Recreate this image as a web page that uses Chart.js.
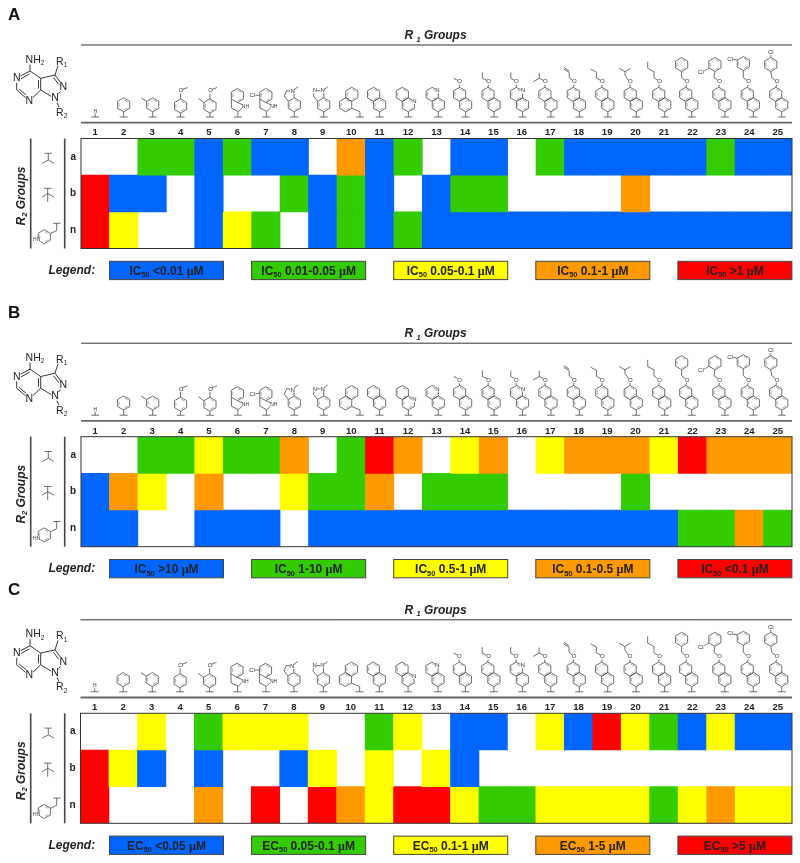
<!DOCTYPE html>
<html><head><meta charset="utf-8">
<style>html,body{margin:0;padding:0;background:#fff}canvas{position:absolute;left:0;display:block}</style>
<script src="https://cdn.jsdelivr.net/npm/chart.js@4"></script>
</head><body>
<canvas id="panelA" width="800" height="290" style="top:0"></canvas>
<canvas id="panelB" width="800" height="292" style="top:290px"></canvas>
<canvas id="panelC" width="800" height="281" style="top:582px"></canvas>
<script>
const categories = ['1','2','3','4','5','6','7','8','9','10','11','12','13','14','15','16','17','18','19','20','21','22','23','24','25'];
const rowLabels = ['a','b','n'];
const palette = ['#ffffff','#0066ff','#33cc00','#ffff00','#ff9900','#ff0000'];
// class codes: 0 none, 1 blue, 2 green, 3 yellow, 4 orange, 5 red
const panelA_a = [0,0,2,2,1,2,1,1,0,4,1,2,0,1,1,0,2,1,1,1,1,1,2,1,1];
const panelA_b = [5,1,1,0,1,0,0,2,1,2,1,0,1,2,2,0,0,0,0,4,0,0,0,0,0];
const panelA_n = [5,3,0,0,1,3,2,0,1,2,1,2,1,1,1,1,1,1,1,1,1,1,1,1,1];
const panelB_a = [0,0,2,2,3,2,2,4,0,2,5,4,0,3,4,0,3,4,4,4,3,5,4,4,4];
const panelB_b = [1,4,3,0,4,0,0,3,2,2,4,0,2,2,2,0,0,0,0,2,0,0,0,0,0];
const panelB_n = [1,1,0,0,1,1,1,0,1,1,1,1,1,1,1,1,1,1,1,1,1,2,2,4,2];
const panelC_a = [0,0,3,0,2,3,3,3,0,0,2,3,0,1,1,0,3,1,5,3,2,1,3,1,1];
const panelC_b = [5,3,1,0,1,0,0,1,3,0,3,0,3,1,0,0,0,0,0,0,0,0,0,0,0];
const panelC_n = [5,0,0,0,4,0,5,0,5,4,3,5,5,3,2,2,3,3,3,3,2,3,4,3,3];
const legendA = ['<0.01','0.01-0.05','0.05-0.1','0.1-1','>1'];
const legendB = ['>10','1-10','0.5-1','0.1-0.5','<0.1'];
const legendC = ['<0.05','0.05-0.1','0.1-1','1-5','>5'];

const SANS = '"Liberation Sans", Arial, sans-serif';
const INK = '#222';

/* ---------- drawing of the chemical sketches (decoration, not data) ---------- */
const R = 7, UX = -6.06, UY = 94.3, LY = 104.8;
const ring = (x, y) => ({ring: [x, y]});
const line = (...p) => ({line: p});
const txt = (s, x, y, z) => ({text: [s, x, y, z || 6]});
const stem = (x, y) => [line([x, y], [x, 117]), line([x - 4, 117], [x + 4, 117])];
const naph = d => [ring(d, LY), ring(d + UX, UY), ...stem(d, LY + R)];
const oxy = (d, ox) => [line([d + UX, UY - R], [ox, 84.6]), txt('O', ox + .3, 81.7)];
const ether = (d, ox, ...chain) => [...naph(d), ...oxy(d, ox), line([ox - 1.5, 80.4], ...chain)];
const indole = [ring(0, 95.5), line([-6.06, 99], [-6, 108], [1, 111.5], [4.8, 107.8]), line([0, 102.5], [5.2, 104.8]), txt('NH', 8, 106.8, 5), ...stem(0.5, 111.5)];
const benzylEther = (d, ox, cx, rx, ry, extra) => [...naph(d), ...oxy(d, ox), line([ox - 1.5, 80.4], [cx, 77.5], [rx, ry + R]), ring(rx, ry), ...extra];
const structures = [
  [txt('H', 0, 111.2, 5), ...stem(0, 113.5)],
  [ring(0, LY), ...stem(0, LY + R)],
  [ring(.6, LY), line([-5.5, LY - R / 2], [-10.8, 98]), ...stem(.6, LY + R)],
  [ring(0, 106), ...stem(0, 113), line([0, 99], [0, 93.4]), txt('O', .5, 90.7), line([2, 89.5], [7, 87.5])],
  [ring(1, 106), line([-5, 102.5], [-10.5, 98.5]), ...stem(1, 113), line([1, 99], [1, 93.4]), txt('O', 1.5, 90.7), line([3, 89.5], [8, 87.5])],
  indole,
  [...indole, line([-6, 95], [-10.5, 95.5]), txt('Cl', -13.5, 95.7)],
  [ring(0, LY), ...stem(0, LY + R), line([-6, 101.3], [-10, 96], [-7.5, 90.5], [-3.5, 91.2]), line([-.5, 93.5], [0, 97.8]), txt('N', -1.7, 91.7), line([-.4, 90], [3.8, 86.7])],
  [ring(1, LY), ...stem(1, LY + R), line([-5, 101.3], [-9.5, 96], [-8.6, 93]), txt('N', -7.7, 90.7), line([-5.6, 90.7], [-2, 90.7]), txt('N', 0, 90.7), line([1, 93], [1, 97.8]), line([1.5, 89.5], [5, 86.7])],
  [ring(-5.5, LY), ring(.6, UY), line([.5, 108.3], [8.8, 111.7]), ...stem(8.8, 111.7)],
  naph(0),
  [...naph(.3), txt('N', 6.3, 101.2)],
  [...naph(1.8), txt('N', .9, 90.8)],
  ether(.7, -5.7, [-11, 78.3]),
  ether(.7, -5, [-11, 78.3], [-11, 72.3]),
  [...ether(.7, -5.8, [-11, 78.3], [-11, 72.3]), txt('N', 1, 90.8)],
  [...ether(.7, -5.3, [-11, 78.3], [-17, 81.7]), line([-11, 78.3], [-11, 72.7])],
  [...ether(.7, -4.7, [-9.5, 77.5], [-9.5, 72.5], [-15, 69]), line([-9.5, 71], [-14.5, 67.5])],
  ether(.7, -5, [-10.8, 78], [-10.5, 72.3], [-16.5, 69]),
  [...ether(.7, -5.6, [-10.6, 75], [-10.6, 71.7], [-16.3, 68.3]), line([-10.6, 71.7], [-5, 68.3])],
  ether(.7, -4.7, [-10, 77.7], [-10, 71.7], [-16.3, 68.3], [-16.3, 61.7]),
  benzylEther(-.7, -5.8, -10.8, -10.8, 64.5, []),
  benzylEther(4, -1.6, -6.9, -6, 64.5, [line([-12, 68], [-16.5, 71]), txt('Cl', -20, 72.3)]),
  benzylEther(4, -1, -6, -6, 63.5, [line([-12, 60], [-16.3, 59.2]), txt('Cl', -19.3, 59)]),
  benzylEther(4, -1, -6, -7, 64.5, [line([-7, 57.5], [-7, 55]), txt('Cl', -7, 52.3)])
];
const r2Sketches = [
  [line([44.5, 153.3], [52, 153.3]), line([48.3, 153.3], [48.3, 160]), line([42.3, 163.3], [48.3, 160], [54, 163.3])],
  [line([44, 188.3], [51.5, 188.3]), line([47.7, 188.3], [47.7, 202]), line([42, 197], [47.7, 193.5], [54, 197])],
  [line([53, 223.3], [60.5, 223.3]), line([56.7, 223.3], [56.7, 230.5], [50.4, 233.5]), ring(44.3, 236.7), txt('HN', 36.7, 240, 5)]
];
const scaffold = [
  line([30, 64.5], [30, 71], [40.7, 78.3], [40.7, 90], [32.3, 98]),
  line([38.5, 80], [38.5, 88.5]),
  line([30, 71], [19.5, 76.5]), line([29.5, 74], [21, 78.7]),
  line([16.7, 82], [16.7, 90], [26.3, 98.3]), line([19, 89], [26, 95]),
  line([40.7, 78.3], [55, 75], [60.8, 82.8]), line([53.6, 77.6], [58.7, 84.4]),
  line([61.2, 90.5], [58, 94.5]),
  line([40.7, 90], [51.7, 96.7]),
  line([55, 75], [58, 65.6]),
  line([56.6, 101.5], [59, 107]),
  txt('N', 16.7, 78.6, 10.5), txt('N', 29.3, 100.8, 10.5), txt('N', 63.3, 87, 10.5), txt('N', 55, 98, 10.5)
];
function drawPrim(ctx, p, ox, dy) {
  if (p.line) {
    ctx.beginPath();
    p.line.forEach((q, i) => ctx[i ? 'lineTo' : 'moveTo'](ox + q[0], dy + q[1]));
    ctx.stroke();
  } else if (p.ring) {
    const cx = ox + p.ring[0], cy = dy + p.ring[1];
    const v = (k, r) => [cx + r * Math.sin(k * Math.PI / 3), cy - r * Math.cos(k * Math.PI / 3)];
    ctx.beginPath();
    for (let k = 0; k < 6; k++) { const q = v(k, R); ctx[k ? 'lineTo' : 'moveTo'](q[0], q[1]); }
    ctx.closePath();
    ctx.stroke();
    ctx.save();
    ctx.globalAlpha = .55;
    ctx.beginPath();
    for (let k = 0; k < 6; k += 2) {
      const a = v(k, R * .76), b = v(k + 1, R * .76);
      const mx = (a[0] + b[0]) / 2, my = (a[1] + b[1]) / 2;
      ctx.moveTo(mx + (a[0] - mx) * .7, my + (a[1] - my) * .7);
      ctx.lineTo(mx + (b[0] - mx) * .7, my + (b[1] - my) * .7);
    }
    ctx.stroke();
    ctx.restore();
  } else {
    const [s, x, y, z] = p.text;
    ctx.save();
    ctx.font = z + 'px ' + SANS; ctx.textAlign = 'center'; ctx.textBaseline = 'middle';
    const w = ctx.measureText(s).width;
    ctx.fillStyle = '#fff'; ctx.fillRect(ox + x - w / 2, dy + y - z * .42, w, z * .84);
    ctx.fillStyle = z > 7 ? INK : '#333';
    ctx.fillText(s, ox + x, dy + y);
    ctx.restore();
  }
}
function richText(ctx, parts, x, y, size, weight) {
  // parts: [text, isSub, fontFamily?]
  const fontOf = p => weight + ' ' + (p[1] ? size * .62 : size) + 'px ' + (p[2] || SANS);
  let total = 0;
  parts.forEach(p => { ctx.font = fontOf(p); total += ctx.measureText(p[0]).width; });
  let cx = x - total / 2;
  ctx.textAlign = 'left'; ctx.textBaseline = 'alphabetic';
  parts.forEach(p => {
    ctx.font = fontOf(p);
    ctx.fillText(p[0], cx, y + (p[1] ? size * .22 : 0));
    cx += ctx.measureText(p[0]).width;
  });
}
const decorations = {
  id: 'decorations',
  afterDraw(chart, args, o) {
    const ctx = chart.ctx, a = chart.chartArea, dy = o.dy, xs = chart.scales.x;
    ctx.save();
    // panel letter
    ctx.fillStyle = '#111'; ctx.font = 'bold 17px ' + SANS; ctx.textAlign = 'left'; ctx.textBaseline = 'middle';
    ctx.fillText(o.letter, 8, dy + 15.5);
    // rules
    ctx.strokeStyle = '#333'; ctx.lineWidth = 1;
    ctx.beginPath(); ctx.moveTo(a.left, dy + 45); ctx.lineTo(a.right, dy + 45); ctx.stroke();
    ctx.strokeStyle = '#666'; ctx.lineWidth = 1.8;
    ctx.beginPath(); ctx.moveTo(a.left, dy + 122.7); ctx.lineTo(a.right, dy + 122.7); ctx.stroke();
    ctx.strokeStyle = '#444'; ctx.lineWidth = 1.6;
    [30.7, 64.7].forEach(x => { ctx.beginPath(); ctx.moveTo(x, a.top); ctx.lineTo(x, a.bottom); ctx.stroke(); });
    // plot frame
    ctx.strokeStyle = '#333'; ctx.lineWidth = 1;
    ctx.strokeRect(a.left, a.top, a.right - a.left, a.bottom - a.top);
    // titles
    ctx.fillStyle = INK;
    richText(ctx, [['R ', false], ['1', true], [' Groups', false]], 435.5, dy + 39, 12, 'italic bold');
    ctx.save();
    ctx.translate(24.5, dy + 196); ctx.rotate(-Math.PI / 2);
    richText(ctx, [['R', false], ['2', true], [' Groups', false]], 0, 0, 12, 'italic bold');
    ctx.restore();
    ctx.font = 'italic bold 12px ' + SANS; ctx.textAlign = 'left'; ctx.textBaseline = 'middle';
    ctx.fillText('Legend:', 48.5, dy + 270.5);
    // legend boxes
    o.legend.forEach((label, i) => {
      const x = 109.5 + i * 142.1, y = dy + 261.3;
      ctx.fillStyle = palette[i + 1]; ctx.strokeStyle = '#444'; ctx.lineWidth = 1;
      ctx.fillRect(x, y, 114, 18.3); ctx.strokeRect(x, y, 114, 18.3);
      ctx.fillStyle = INK;
      richText(ctx, [[o.measure, false], ['50', true], [' ' + label + ' ', false], ['µ', false, '"Liberation Serif", serif'], ['M', false]], x + 57, y + 13.4, 12, 'bold');
    });
    // chemistry
    ctx.strokeStyle = '#4a4a4a'; ctx.lineWidth = .8; ctx.lineJoin = 'round';
    structures.forEach((group, i) => {
      const ox = xs.getPixelForValue(i);
      group.forEach(p => drawPrim(ctx, p, ox, dy));
    });
    r2Sketches.forEach(g => g.forEach(p => drawPrim(ctx, p, 0, dy)));
    ctx.strokeStyle = '#222'; ctx.lineWidth = .9;
    scaffold.forEach(p => drawPrim(ctx, p, 0, dy));
    ctx.fillStyle = INK;
    richText(ctx, [['NH', false], ['2', true]], 35, dy + 62.5, 10.5, 'normal');
    richText(ctx, [['R', false], ['1', true]], 61.7, dy + 64.5, 10.5, 'normal');
    richText(ctx, [['R', false], ['2', true]], 61.7, dy + 115.5, 10.5, 'normal');
    ctx.restore();
  }
};
function makePanel(id, rows, legend, measure, letter, canvasTop, gridTop, left) {
  const H = document.getElementById(id).height, axisH = 20;
  const names = rowLabels;
  const datasets = rows.map((codes, r) => {
    const lo = rows.length - 1 - r;
    return {
      label: names[r],
      grouped: false,
      data: codes.map(c => c ? [lo, lo + 1] : null),
      backgroundColor: codes.map(c => palette[c]),
      borderWidth: 0,
      barPercentage: 1,
      categoryPercentage: 1
    };
  });
  new Chart(document.getElementById(id), {
    type: 'bar',
    data: {labels: categories, datasets},
    options: {
      responsive: false, animation: false, devicePixelRatio: 1,
      layout: {padding: {top: gridTop - canvasTop - axisH, left: 0, right: 800 - 792, bottom: H - (gridTop - canvasTop + 110)}},
      plugins: {
        legend: {display: false}, tooltip: {enabled: false},
        decorations: {dy: gridTop - canvasTop - 138.5, legend, measure, letter}
      },
      scales: {
        x: {
          position: 'top', type: 'category',
          afterFit: s => { s.height = axisH; },
          grid: {display: false, drawTicks: false}, border: {display: false},
          ticks: {autoSkip: false, maxRotation: 0, minRotation: 0, padding: 0, color: INK, font: {family: SANS, weight: 'bold', size: 9.5}}
        },
        y: {
          min: 0, max: 3,
          afterFit: s => { s.width = left; },
          afterBuildTicks: s => { s.ticks = [{value: .5}, {value: 1.5}, {value: 2.5}]; },
          grid: {display: false, drawTicks: false}, border: {display: false},
          ticks: {padding: 5, color: INK, font: {family: SANS, weight: 'bold', size: 10},
            callback: v => rowLabels[rowLabels.length - 1 - Math.floor(v)]}
        }
      }
    },
    plugins: [decorations]
  });
}
makePanel('panelA', [panelA_a, panelA_b, panelA_n], legendA, 'IC', 'A', 0, 138.5, 81);
makePanel('panelB', [panelB_a, panelB_b, panelB_n], legendB, 'IC', 'B', 290, 436.7, 81);
makePanel('panelC', [panelC_a, panelC_b, panelC_n], legendC, 'EC', 'C', 582, 713.3, 80.5);
</script>
</body></html>
